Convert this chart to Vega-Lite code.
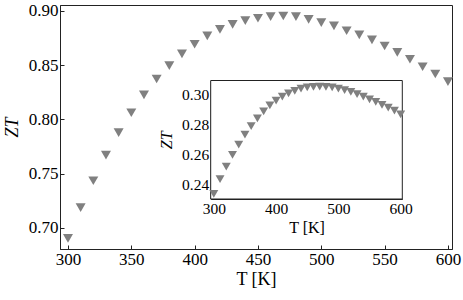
{
  "$schema": "https://vega.github.io/schema/vega-lite/v6.json",
  "width": 392,
  "height": 244,
  "autosize": "none",
  "padding": {"left": 60, "top": 5, "right": 11, "bottom": 51},
  "background": "white",
  "config": {
    "font": "Liberation Serif",
    "view": {"stroke": "#222", "strokeWidth": 1},
    "axis": {
      "grid": false,
      "domainColor": "#222",
      "tickColor": "#222",
      "labelColor": "black",
      "titleColor": "black",
      "labelFont": "Liberation Serif",
      "titleFont": "Liberation Serif",
      "titleFontWeight": "normal"
    }
  },
  "datasets": {
    "main": [
      {"T": 300, "ZT": 0.6904}, {"T": 310, "ZT": 0.7187}, {"T": 320, "ZT": 0.7435},
      {"T": 330, "ZT": 0.7672}, {"T": 340, "ZT": 0.7878}, {"T": 350, "ZT": 0.8062},
      {"T": 360, "ZT": 0.8226}, {"T": 370, "ZT": 0.8373}, {"T": 380, "ZT": 0.8496},
      {"T": 390, "ZT": 0.8604}, {"T": 400, "ZT": 0.8693}, {"T": 410, "ZT": 0.877},
      {"T": 420, "ZT": 0.8831}, {"T": 430, "ZT": 0.8877}, {"T": 440, "ZT": 0.8911},
      {"T": 450, "ZT": 0.8933}, {"T": 460, "ZT": 0.8948}, {"T": 470, "ZT": 0.8954},
      {"T": 480, "ZT": 0.8948}, {"T": 490, "ZT": 0.8923}, {"T": 500, "ZT": 0.8892},
      {"T": 510, "ZT": 0.8862}, {"T": 520, "ZT": 0.8818}, {"T": 530, "ZT": 0.8779},
      {"T": 540, "ZT": 0.8733}, {"T": 550, "ZT": 0.8677}, {"T": 560, "ZT": 0.8619},
      {"T": 570, "ZT": 0.8555}, {"T": 580, "ZT": 0.8486}, {"T": 590, "ZT": 0.8419},
      {"T": 600, "ZT": 0.8348}
    ],
    "inset": [
      {"T": 300, "ZT": 0.2335}, {"T": 310, "ZT": 0.2434}, {"T": 320, "ZT": 0.2518},
      {"T": 330, "ZT": 0.2597}, {"T": 340, "ZT": 0.2666}, {"T": 350, "ZT": 0.2733},
      {"T": 360, "ZT": 0.2791}, {"T": 370, "ZT": 0.2843}, {"T": 380, "ZT": 0.289},
      {"T": 390, "ZT": 0.293}, {"T": 400, "ZT": 0.2961}, {"T": 410, "ZT": 0.2988},
      {"T": 420, "ZT": 0.3011}, {"T": 430, "ZT": 0.3028}, {"T": 440, "ZT": 0.3042},
      {"T": 450, "ZT": 0.3051}, {"T": 460, "ZT": 0.3055}, {"T": 470, "ZT": 0.3056},
      {"T": 480, "ZT": 0.3055}, {"T": 490, "ZT": 0.3051}, {"T": 500, "ZT": 0.3042},
      {"T": 510, "ZT": 0.3033}, {"T": 520, "ZT": 0.302}, {"T": 530, "ZT": 0.3006},
      {"T": 540, "ZT": 0.2988}, {"T": 550, "ZT": 0.297}, {"T": 560, "ZT": 0.2954},
      {"T": 570, "ZT": 0.2934}, {"T": 580, "ZT": 0.2914}, {"T": 590, "ZT": 0.2894},
      {"T": 600, "ZT": 0.287}
    ]
  },
  "layer": [
    {
      "data": {"name": "main"},
      "mark": {"type": "point", "shape": "triangle-down", "filled": true, "size": 100, "color": "#808080", "opacity": 1},
      "encoding": {
        "x": {
          "field": "T", "type": "quantitative",
          "scale": {"domain": [293.7, 603.2], "nice": false, "zero": false},
          "axis": {
            "orient": "bottom", "title": "T [K]", "values": [300, 350, 400, 450, 500, 550, 600],
            "tickSize": -4, "labelFontSize": 17, "labelPadding": 6, "labelFlush": false,
            "titleFontSize": 18, "titlePadding": 3
          }
        },
        "y": {
          "field": "ZT", "type": "quantitative",
          "scale": {"domain": [0.6806, 0.9055], "nice": false, "zero": false},
          "axis": {
            "orient": "left", "title": "ZT", "titleFontStyle": "italic", "format": ".2f",
            "values": [0.7, 0.75, 0.8, 0.85, 0.9],
            "tickSize": -4, "labelFontSize": 17, "labelPadding": 6, "labelFlush": false,
            "titleFontSize": 18, "titlePadding": 7
          }
        }
      }
    },
    {
      "layer": [
        {
          "data": {"values": [{}]},
          "mark": {"type": "rect", "fill": "white", "stroke": "#222", "strokeWidth": 1},
          "encoding": {
            "x": {"datum": 295, "type": "quantitative", "scale": {"domain": [295, 602.6], "range": [150.7, 342.3], "nice": false, "zero": false}},
            "x2": {"datum": 602.6},
            "y": {"datum": 0.2301, "type": "quantitative", "scale": {"domain": [0.2301, 0.3097], "range": [194, 75.5], "nice": false, "zero": false}},
            "y2": {"datum": 0.3097}
          }
        },
        {
          "data": {"name": "inset"},
          "mark": {"type": "point", "shape": "triangle-down", "filled": true, "size": 80, "color": "#808080", "opacity": 1},
          "encoding": {
            "x": {
              "field": "T", "type": "quantitative",
              "scale": {"domain": [295, 602.6], "range": [150.7, 342.3], "nice": false, "zero": false},
              "axis": {
                "orient": "bottom", "offset": -50, "title": "T [K]", "values": [300, 400, 500, 600],
                "tickSize": -3, "labelFontSize": 15.5, "labelPadding": 5, "labelFlush": false,
                "titleFontSize": 16, "titlePadding": 3
              }
            },
            "y": {
              "field": "ZT", "type": "quantitative",
              "scale": {"domain": [0.2301, 0.3097], "range": [194, 75.5], "nice": false, "zero": false},
              "axis": {
                "orient": "left", "offset": -150.7, "title": "ZT", "titleFontStyle": "italic", "format": ".2f",
                "values": [0.24, 0.26, 0.28, 0.3],
                "tickSize": -3, "labelFontSize": 15.5, "labelPadding": 5, "labelFlush": false,
                "titleFontSize": 16, "titlePadding": 7
              }
            }
          }
        }
      ]
    }
  ],
  "resolve": {"scale": {"x": "independent", "y": "independent"}}
}
